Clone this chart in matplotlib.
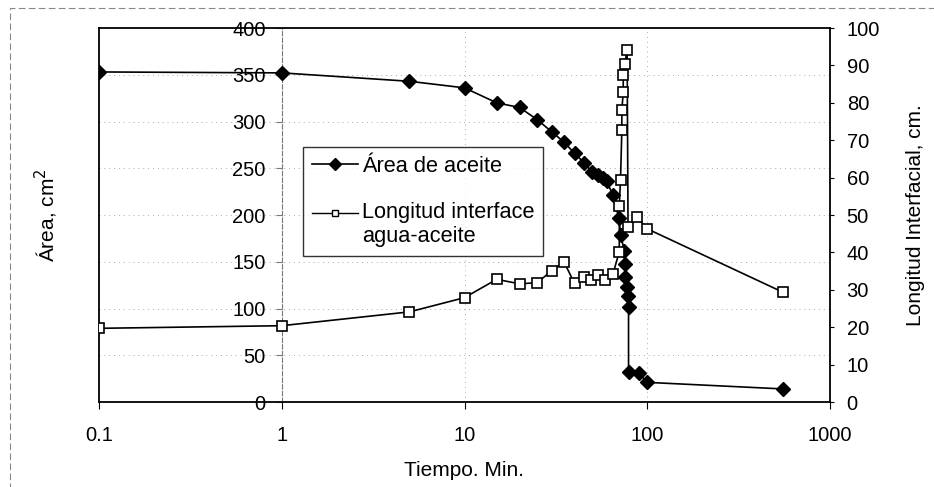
import matplotlib.pyplot as plt
import matplotlib.ticker as mticker
from matplotlib.lines import Line2D
from matplotlib.legend_handler import HandlerLine2D
from matplotlib.patches import Rectangle

plt.rcParams['font.family'] = ['Liberation Sans', 'DejaVu Sans']
plt.rcParams['font.size'] = 15

# area de aceite (eje izquierdo)
t_area = [0.1, 1, 5, 10, 15, 20, 25, 30, 35, 40, 45, 50, 53.5, 57, 60, 65,
          70, 71.5, 75, 75.5, 76, 77, 78, 79, 79, 90, 100, 550]
area = [353, 352, 343, 336, 320, 315, 302, 289, 278, 266, 256, 246, 243, 240, 236, 221,
        196.5, 179, 161, 148, 134, 123, 113, 102, 32, 30.5, 21, 14]

# longitud interfacial (eje derecho)
t_long = [0.1, 1, 5, 10, 15, 20, 25, 30, 35, 40, 45, 49, 54, 59, 65,
          70.3, 70.3, 71.4, 72.6, 72.6, 73.9, 73.9, 75.4, 77.6, 78.5, 88, 100, 550]
longitud = [19.7, 20.4, 24.1, 27.9, 32.8, 31.6, 31.9, 35.1, 37.5, 31.7, 33.5, 32.6, 34, 32.6, 34.3,
            40.2, 52.4, 59.4, 72.7, 78.1, 82.8, 87.3, 90.5, 94.1, 46.7, 49.4, 46.3, 29.4]

x_ticks = [0.1, 1, 10, 100, 1000]
x_labels = ['0.1', '1', '10', '100', '1000']
left_ticks = list(range(0, 401, 50))
right_ticks = list(range(0, 101, 10))


class HandlerFirstLine(HandlerLine2D):
    # sube el simbolo a la altura de la primera linea del texto
    def __init__(self, shift=0.0, **kw):
        super().__init__(**kw)
        self.shift = shift

    def create_artists(self, legend, orig_handle, xdescent, ydescent, width, height, fontsize, trans):
        return super().create_artists(legend, orig_handle, xdescent, ydescent - self.shift * fontsize,
                                      width, height, fontsize, trans)


fig = plt.figure(figsize=(9.34, 4.87), dpi=100)
ax = fig.add_axes([99 / 934, 1 - 402 / 487, 731 / 934, 374 / 487])

# borde exterior punteado
fig.patches.append(Rectangle((10 / 934, -0.05), 1.0, 1 - 8 / 487 + 0.05, transform=fig.transFigure,
                             fill=False, ec='#888888', lw=0.8, ls=(0, (6, 3))))

ax.set_xscale('log')
ax.set_xlim(0.1, 1000)
ax.set_ylim(0, 400)
ax.set_xticks(x_ticks)
ax.set_xticklabels(x_labels)
ax.xaxis.set_minor_locator(mticker.NullLocator())
ax.set_yticks(left_ticks)

# grid punteado
for v in left_ticks[1:-1]:
    ax.axhline(v, color='#aaaaaa', lw=0.7, ls=(0, (1, 4)), zorder=0)
for v in [10, 100]:
    ax.axvline(v, color='#aaaaaa', lw=0.7, ls=(0, (1, 4)), zorder=0)

# eje vertical cruza en x=1
ax.spines['left'].set_position(('data', 1))
ax.spines['left'].set_color('#777777')
ax.spines['left'].set_linestyle((0, (4, 2)))
ax.spines['left'].set_linewidth(0.8)
ax.axvline(0.1, color='black', lw=1.3, clip_on=False, zorder=1)
for s in ['top', 'bottom', 'right']:
    ax.spines[s].set_linewidth(1.3)

ax.tick_params(axis='y', direction='out', length=4.5, width=0.8, color='#777777', pad=7,
               labelsize=14.5)
ax.tick_params(axis='x', direction='out', length=5, width=0.8, pad=12, labelsize=14.5)
ax.set_xlabel('Tiempo. Min.', labelpad=12)
ax.set_ylabel('Área, cm$^2$')
ax.yaxis.set_label_coords(-0.054, 0.5)

ax.plot(t_area, area, color='black', lw=1.2, marker='D', markersize=7,
        markerfacecolor='black', zorder=3)

ax2 = ax.twinx()
ax2.set_ylim(0, 100)
ax2.set_yticks(right_ticks)
ax2.tick_params(axis='y', direction='out', length=3, width=0.8, pad=9, labelsize=14.5)
for s in ax2.spines.values():
    s.set_visible(False)
ax2.plot(t_long, longitud, color='black', lw=1.2, marker='s', markersize=7,
         markerfacecolor='white', markeredgewidth=1.2, zorder=3)
ax2.set_ylabel('Longitud Interfacial, cm.', labelpad=19)

h_area = Line2D([], [], color='black', lw=1.2, marker='D', markersize=6)
h_long = Line2D([], [], color='black', lw=1.0, marker='s', markersize=5,
                markerfacecolor='white', markeredgewidth=1.0)
leg = fig.legend([h_area, h_long], ['Área de aceite', 'Longitud interface\nagua-aceite'],
                 loc='upper left', bbox_to_anchor=(303 / 934, 1 - 147 / 487),
                 frameon=True, fancybox=False, fontsize=15.7, handlelength=2.1,
                 handletextpad=0.2, borderpad=0.4, labelspacing=1.15, borderaxespad=0,
                 handler_map={h_long: HandlerFirstLine(shift=1.06)})
leg.get_frame().set_edgecolor('black')
leg.get_frame().set_linewidth(1.0)

fig.savefig('out.png', dpi=100)
